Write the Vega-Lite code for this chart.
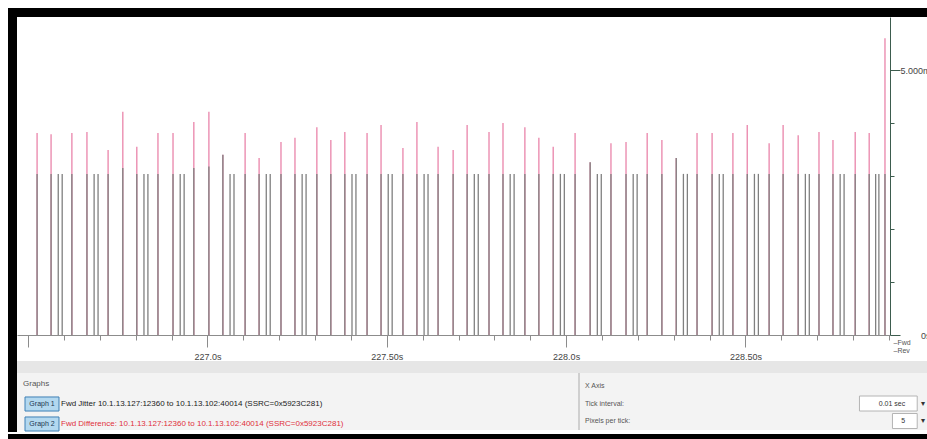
{
  "$schema": "https://vega.github.io/schema/vega-lite/v6.json",
  "description": "RTP stream analysis graph: forward jitter and forward difference per packet",
  "background": "white",
  "padding": {"left": 8, "top": 8, "right": 0, "bottom": 0},
  "spacing": 0,
  "config": {
    "view": {"stroke": null},
    "concat": {"spacing": 0},
    "font": "Liberation Sans",
    "text": {"font": "Liberation Sans"}
  },
  "datasets": {
    "packets": [
      {"t": 226.525, "s": "diff", "v": 3.81},
      {"t": 226.564, "s": "diff", "v": 3.79},
      {"t": 226.622, "s": "diff", "v": 3.81},
      {"t": 226.664, "s": "diff", "v": 3.83},
      {"t": 226.723, "s": "diff", "v": 3.49},
      {"t": 226.764, "s": "diff", "v": 4.21},
      {"t": 226.803, "s": "diff", "v": 3.55},
      {"t": 226.862, "s": "diff", "v": 3.81},
      {"t": 226.904, "s": "diff", "v": 3.81},
      {"t": 226.962, "s": "diff", "v": 4.02},
      {"t": 227.004, "s": "diff", "v": 4.21},
      {"t": 227.043, "s": "diff", "v": 3.40},
      {"t": 227.105, "s": "diff", "v": 3.81},
      {"t": 227.144, "s": "diff", "v": 3.34},
      {"t": 227.205, "s": "diff", "v": 3.64},
      {"t": 227.244, "s": "diff", "v": 3.72},
      {"t": 227.305, "s": "diff", "v": 3.92},
      {"t": 227.344, "s": "diff", "v": 3.68},
      {"t": 227.383, "s": "diff", "v": 3.83},
      {"t": 227.445, "s": "diff", "v": 3.81},
      {"t": 227.484, "s": "diff", "v": 3.96},
      {"t": 227.545, "s": "diff", "v": 3.53},
      {"t": 227.584, "s": "diff", "v": 4.02},
      {"t": 227.643, "s": "diff", "v": 3.55},
      {"t": 227.685, "s": "diff", "v": 3.49},
      {"t": 227.724, "s": "diff", "v": 3.96},
      {"t": 227.785, "s": "diff", "v": 3.83},
      {"t": 227.824, "s": "diff", "v": 4.00},
      {"t": 227.885, "s": "diff", "v": 3.92},
      {"t": 227.924, "s": "diff", "v": 3.72},
      {"t": 227.964, "s": "diff", "v": 3.55},
      {"t": 228.025, "s": "diff", "v": 3.81},
      {"t": 228.067, "s": "diff", "v": 3.26},
      {"t": 228.125, "s": "diff", "v": 3.62},
      {"t": 228.167, "s": "diff", "v": 3.64},
      {"t": 228.226, "s": "diff", "v": 3.81},
      {"t": 228.267, "s": "diff", "v": 3.68},
      {"t": 228.307, "s": "diff", "v": 3.34},
      {"t": 228.365, "s": "diff", "v": 3.81},
      {"t": 228.407, "s": "diff", "v": 3.81},
      {"t": 228.465, "s": "diff", "v": 3.81},
      {"t": 228.505, "s": "diff", "v": 3.96},
      {"t": 228.566, "s": "diff", "v": 3.62},
      {"t": 228.605, "s": "diff", "v": 3.96},
      {"t": 228.647, "s": "diff", "v": 3.77},
      {"t": 228.705, "s": "diff", "v": 3.83},
      {"t": 228.744, "s": "diff", "v": 3.68},
      {"t": 228.806, "s": "diff", "v": 3.83},
      {"t": 228.845, "s": "diff", "v": 3.81},
      {"t": 228.889, "s": "diff", "v": 5.60},
      {"t": 226.525, "s": "jitter", "v": 3.04},
      {"t": 226.564, "s": "jitter", "v": 3.04},
      {"t": 226.584, "s": "jitter", "v": 3.04},
      {"t": 226.595, "s": "jitter", "v": 3.04},
      {"t": 226.622, "s": "jitter", "v": 3.04},
      {"t": 226.664, "s": "jitter", "v": 3.04},
      {"t": 226.684, "s": "jitter", "v": 3.04},
      {"t": 226.695, "s": "jitter", "v": 3.04},
      {"t": 226.723, "s": "jitter", "v": 3.04},
      {"t": 226.764, "s": "jitter", "v": 3.15},
      {"t": 226.803, "s": "jitter", "v": 3.04},
      {"t": 226.823, "s": "jitter", "v": 3.04},
      {"t": 226.834, "s": "jitter", "v": 3.04},
      {"t": 226.862, "s": "jitter", "v": 3.04},
      {"t": 226.904, "s": "jitter", "v": 3.04},
      {"t": 226.924, "s": "jitter", "v": 3.04},
      {"t": 226.935, "s": "jitter", "v": 3.04},
      {"t": 226.962, "s": "jitter", "v": 3.15},
      {"t": 227.004, "s": "jitter", "v": 3.18},
      {"t": 227.043, "s": "jitter", "v": 3.40},
      {"t": 227.063, "s": "jitter", "v": 3.04},
      {"t": 227.074, "s": "jitter", "v": 3.04},
      {"t": 227.105, "s": "jitter", "v": 3.04},
      {"t": 227.144, "s": "jitter", "v": 3.04},
      {"t": 227.164, "s": "jitter", "v": 3.04},
      {"t": 227.175, "s": "jitter", "v": 3.04},
      {"t": 227.205, "s": "jitter", "v": 3.04},
      {"t": 227.244, "s": "jitter", "v": 3.04},
      {"t": 227.264, "s": "jitter", "v": 3.04},
      {"t": 227.275, "s": "jitter", "v": 3.04},
      {"t": 227.305, "s": "jitter", "v": 3.04},
      {"t": 227.344, "s": "jitter", "v": 3.04},
      {"t": 227.383, "s": "jitter", "v": 3.04},
      {"t": 227.403, "s": "jitter", "v": 3.04},
      {"t": 227.414, "s": "jitter", "v": 3.04},
      {"t": 227.445, "s": "jitter", "v": 3.04},
      {"t": 227.484, "s": "jitter", "v": 3.04},
      {"t": 227.504, "s": "jitter", "v": 3.04},
      {"t": 227.515, "s": "jitter", "v": 3.04},
      {"t": 227.545, "s": "jitter", "v": 3.04},
      {"t": 227.584, "s": "jitter", "v": 3.04},
      {"t": 227.604, "s": "jitter", "v": 3.04},
      {"t": 227.615, "s": "jitter", "v": 3.04},
      {"t": 227.643, "s": "jitter", "v": 3.04},
      {"t": 227.685, "s": "jitter", "v": 3.04},
      {"t": 227.724, "s": "jitter", "v": 3.04},
      {"t": 227.744, "s": "jitter", "v": 3.04},
      {"t": 227.755, "s": "jitter", "v": 3.04},
      {"t": 227.785, "s": "jitter", "v": 3.04},
      {"t": 227.824, "s": "jitter", "v": 3.04},
      {"t": 227.844, "s": "jitter", "v": 3.04},
      {"t": 227.855, "s": "jitter", "v": 3.04},
      {"t": 227.885, "s": "jitter", "v": 3.04},
      {"t": 227.924, "s": "jitter", "v": 3.04},
      {"t": 227.964, "s": "jitter", "v": 3.04},
      {"t": 227.984, "s": "jitter", "v": 3.04},
      {"t": 227.995, "s": "jitter", "v": 3.04},
      {"t": 228.025, "s": "jitter", "v": 3.04},
      {"t": 228.067, "s": "jitter", "v": 3.26},
      {"t": 228.087, "s": "jitter", "v": 3.04},
      {"t": 228.098, "s": "jitter", "v": 3.04},
      {"t": 228.125, "s": "jitter", "v": 3.04},
      {"t": 228.167, "s": "jitter", "v": 3.04},
      {"t": 228.187, "s": "jitter", "v": 3.04},
      {"t": 228.198, "s": "jitter", "v": 3.04},
      {"t": 228.226, "s": "jitter", "v": 3.04},
      {"t": 228.267, "s": "jitter", "v": 3.04},
      {"t": 228.307, "s": "jitter", "v": 3.34},
      {"t": 228.327, "s": "jitter", "v": 3.04},
      {"t": 228.338, "s": "jitter", "v": 3.04},
      {"t": 228.365, "s": "jitter", "v": 3.04},
      {"t": 228.407, "s": "jitter", "v": 3.04},
      {"t": 228.427, "s": "jitter", "v": 3.04},
      {"t": 228.438, "s": "jitter", "v": 3.04},
      {"t": 228.465, "s": "jitter", "v": 3.04},
      {"t": 228.505, "s": "jitter", "v": 3.04},
      {"t": 228.525, "s": "jitter", "v": 3.04},
      {"t": 228.536, "s": "jitter", "v": 3.04},
      {"t": 228.566, "s": "jitter", "v": 3.04},
      {"t": 228.605, "s": "jitter", "v": 3.04},
      {"t": 228.647, "s": "jitter", "v": 3.04},
      {"t": 228.667, "s": "jitter", "v": 3.04},
      {"t": 228.678, "s": "jitter", "v": 3.04},
      {"t": 228.705, "s": "jitter", "v": 3.04},
      {"t": 228.744, "s": "jitter", "v": 3.04},
      {"t": 228.764, "s": "jitter", "v": 3.04},
      {"t": 228.775, "s": "jitter", "v": 3.04},
      {"t": 228.806, "s": "jitter", "v": 3.04},
      {"t": 228.845, "s": "jitter", "v": 3.04},
      {"t": 228.863, "s": "jitter", "v": 3.04},
      {"t": 228.872, "s": "jitter", "v": 3.04},
      {"t": 228.889, "s": "jitter", "v": 3.04}
    ],
    "graphs": [
      {"row": "hdr", "part": "hdr", "kind": "header", "text": "Graphs"},
      {"row": "g1", "part": "button", "kind": "button", "text": "Graph 1"},
      {"row": "g1", "part": "label", "kind": "jitter", "text": "Fwd Jitter 10.1.13.127:12360 to 10.1.13.102:40014 (SSRC=0x5923C281)"},
      {"row": "g2", "part": "button", "kind": "button", "text": "Graph 2"},
      {"row": "g2", "part": "label", "kind": "diff", "text": "Fwd Difference: 10.1.13.127:12360 to 10.1.13.102:40014 (SSRC=0x5923C281)"}
    ],
    "xaxis": [
      {"row": "hdr", "part": "label", "kind": "header", "text": "X Axis"},
      {"row": "r1", "part": "label", "kind": "label", "text": "Tick interval:"},
      {"row": "r1", "part": "value", "kind": "label", "text": "0.01 sec"},
      {"row": "r1", "part": "arrow", "kind": "label", "text": "▾"},
      {"row": "r2", "part": "label", "kind": "label", "text": "Pixels per tick:"},
      {"row": "r2", "part": "value", "kind": "label", "text": "5"},
      {"row": "r2", "part": "arrow", "kind": "label", "text": "▾"}
    ]
  },
  "vconcat": [
    {"width": 930, "height": 9, "view": {"fill": "black"}, "data": {"values": []}, "mark": "point"},
    {
      "spacing": 0,
      "hconcat": [
        {"width": 9, "height": 415, "view": {"fill": "black"}, "data": {"values": []}, "mark": "point"},
        {
          "spacing": 0,
          "vconcat": [
            {
              "width": 873,
              "height": 318,
              "data": {"name": "packets"},
              "encoding": {
                "x": {
                  "field": "t",
                  "type": "quantitative",
                  "scale": {"domain": [226.469, 228.903], "nice": false, "zero": false},
                  "axis": {
                    "title": null,
                    "grid": false,
                    "values": [226.5, 226.6, 226.7, 226.8, 226.9, 227.0, 227.1, 227.2, 227.3, 227.4, 227.5, 227.6, 227.7, 227.8, 227.9, 228.0, 228.1, 228.2, 228.3, 228.4, 228.5, 228.6, 228.7, 228.8, 228.9],
                    "labelExpr": "abs(datum.value - 227) < 0.001 ? '227.0s' : abs(datum.value - 227.5) < 0.001 ? '227.50s' : abs(datum.value - 228) < 0.001 ? '228.0s' : abs(datum.value - 228.5) < 0.001 ? '228.50s' : ''",
                    "tickSize": {"condition": {"test": "abs(datum.value * 2 - round(datum.value * 2)) < 0.01", "value": 12}, "value": 5},
                    "domainColor": "#8c8c8c",
                    "tickColor": "#8c8c8c",
                    "labelColor": "#444444",
                    "labelFont": "Liberation Sans",
                    "labelFontSize": 9,
                    "labelPadding": 5,
                    "labelFlush": false,
                    "labelOverlap": false
                  }
                },
                "y": {
                  "field": "v",
                  "type": "quantitative",
                  "scale": {"domain": [0, 6], "nice": false},
                  "axis": {
                    "orient": "right",
                    "grid": false,
                    "values": [0, 1, 2, 3, 4, 5],
                    "labelExpr": "datum.value == 5 ? '5.000m' : datum.value == 0 ? '0s' : ''",
                    "tickSize": {"condition": {"test": "datum.value == 5 || datum.value == 0", "value": 10}, "value": 4},
                    "domainColor": "#3d5c4e",
                    "tickColor": "#3d5c4e",
                    "labelColor": "#444444",
                    "labelFont": "Liberation Sans",
                    "labelFontSize": 9,
                    "labelAlign": "right",
                    "labelPadding": 30,
                    "labelFlush": false,
                    "labelOverlap": false,
                    "title": ["–Fwd", "–Rev"],
                    "titleAngle": 0,
                    "titleAlign": "left",
                    "titleBaseline": "top",
                    "titleX": 3,
                    "titleY": 321,
                    "titleFont": "Liberation Sans",
                    "titleFontSize": 7,
                    "titleFontWeight": "normal",
                    "titleColor": "#555555",
                    "titleLineHeight": 8
                  }
                },
                "y2": {"datum": 0}
              },
              "layer": [
                {
                  "transform": [{"filter": "datum.s == 'diff'"}],
                  "mark": {"type": "rule", "color": "#eb8db0", "strokeWidth": 1.4}
                },
                {
                  "transform": [{"filter": "datum.s == 'jitter'"}],
                  "mark": {"type": "rule", "color": "#808080", "strokeWidth": 1.3}
                }
              ]
            },
            {"width": 914, "height": 12, "view": {"fill": "#e6e6e6"}, "data": {"values": []}, "mark": "point"},
            {
              "spacing": 0,
              "hconcat": [
                {
                  "width": 561,
                  "height": 57,
                  "view": {"fill": "#f3f3f3"},
                  "data": {"name": "graphs"},
                  "encoding": {
                    "x": {"field": "part", "type": "nominal", "scale": {"type": "point", "padding": 0, "domain": ["hdr", "button", "label"], "range": [6, 44]}, "axis": null},
                    "y": {"field": "row", "type": "nominal", "scale": {"type": "point", "padding": 0, "domain": ["hdr", "g1", "g2"], "range": [11, 51]}, "axis": null}
                  },
                  "layer": [
                    {
                      "transform": [{"filter": "datum.kind == 'button'"}],
                      "mark": {"type": "point", "shape": "M-1.5,-0.62H1.5V0.62H-1.5Z", "size": 513, "filled": true, "fill": "#b3d8ef", "stroke": "#3f80b6", "strokeWidth": 1, "opacity": 1}
                    },
                    {
                      "transform": [{"filter": "datum.kind == 'button'"}],
                      "mark": {"type": "text", "align": "center", "baseline": "middle", "fontSize": 7, "color": "#1b3550"},
                      "encoding": {"text": {"field": "text"}}
                    },
                    {
                      "transform": [{"filter": "datum.kind != 'button'"}],
                      "mark": {"type": "text", "align": "left", "baseline": "middle", "fontSize": 8},
                      "encoding": {
                        "text": {"field": "text"},
                        "color": {"field": "kind", "type": "nominal", "scale": {"domain": ["header", "jitter", "diff"], "range": ["#555555", "#1a1a1a", "#e0303c"]}, "legend": null}
                      }
                    }
                  ]
                },
                {"width": 2, "height": 57, "view": {"fill": "#cfcfcf"}, "data": {"values": []}, "mark": "point"},
                {
                  "width": 351,
                  "height": 57,
                  "view": {"fill": "#f3f3f3"},
                  "data": {"name": "xaxis"},
                  "encoding": {
                    "x": {"field": "part", "type": "nominal", "scale": {"type": "point", "padding": 0, "domain": ["label", "c1", "c2", "c3", "c4", "c5", "c6", "c7", "c8", "c9", "c10", "c11", "c12", "c13", "c14", "c15", "c16", "c17", "value", "arrow"], "range": [5, 343]}, "axis": null},
                    "y": {"field": "row", "type": "nominal", "scale": {"type": "point", "padding": 0, "domain": ["hdr", "r1", "r2"], "range": [13, 48]}, "axis": null}
                  },
                  "layer": [
                    {
                      "transform": [{"filter": "datum.part == 'value' && datum.row == 'r1'"}],
                      "mark": {"type": "point", "shape": "M-3.05,-0.5H0.8V0.5H-3.05Z", "size": 900, "filled": true, "fill": "white", "stroke": "#b4b4b4", "strokeWidth": 1, "opacity": 1}
                    },
                    {
                      "transform": [{"filter": "datum.part == 'value' && datum.row == 'r2'"}],
                      "mark": {"type": "point", "shape": "M-0.85,-0.5H0.8V0.5H-0.85Z", "size": 900, "filled": true, "fill": "white", "stroke": "#b4b4b4", "strokeWidth": 1, "opacity": 1}
                    },
                    {
                      "transform": [{"filter": "datum.part == 'label'"}],
                      "mark": {"type": "text", "align": "left", "baseline": "middle", "fontSize": 7},
                      "encoding": {
                        "text": {"field": "text"},
                        "color": {"field": "kind", "type": "nominal", "scale": {"domain": ["header", "label"], "range": ["#555555", "#333333"]}, "legend": null}
                      }
                    },
                    {
                      "transform": [{"filter": "datum.part == 'value'"}],
                      "mark": {"type": "text", "align": "right", "baseline": "middle", "fontSize": 7, "color": "#333333"},
                      "encoding": {"text": {"field": "text"}}
                    },
                    {
                      "transform": [{"filter": "datum.part == 'arrow'"}],
                      "mark": {"type": "text", "align": "center", "baseline": "middle", "fontSize": 8, "color": "#333333"},
                      "encoding": {"text": {"field": "text"}}
                    }
                  ]
                }
              ]
            }
          ]
        }
      ]
    },
    {"width": 930, "height": 7, "view": {"fill": "black"}, "data": {"values": []}, "mark": "point"}
  ]
}
